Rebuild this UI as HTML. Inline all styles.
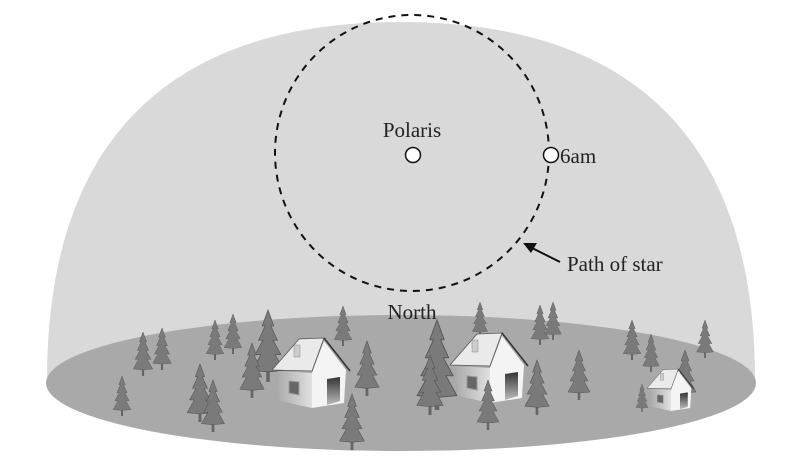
<!DOCTYPE html>
<html><head><style>
html,body{margin:0;padding:0;background:#fff;}
svg{display:block;}
text{font-family:"Liberation Serif",serif;fill:#222;}
</style></head><body>
<svg width="800" height="470" viewBox="0 0 800 470" xmlns="http://www.w3.org/2000/svg">
<defs>
<linearGradient id="dg" x1="0" y1="0" x2="0" y2="1"><stop offset="0" stop-color="#333"/><stop offset="1" stop-color="#bbb"/></linearGradient>
<linearGradient id="sw" x1="0" y1="0" x2="1" y2="0"><stop offset="0" stop-color="#aaa"/><stop offset="1" stop-color="#e0e0e0"/></linearGradient>
<g id="t">
<rect x="-0.025" y="-0.15" width="0.05" height="0.15" fill="#666"/>
<polygon fill="#7a7a7a" stroke="#555" stroke-width="0.01" points="0,-1 0.08,-0.78 0.04,-0.78 0.13,-0.58 0.07,-0.58 0.18,-0.38 0.1,-0.38 0.22,-0.16 0,-0.14 -0.22,-0.16 -0.1,-0.38 -0.18,-0.38 -0.07,-0.58 -0.13,-0.58 -0.04,-0.78 -0.08,-0.78"/>
</g>
<g id="h">
<polygon points="5,38 40,40 40,75 8,68" fill="url(#sw)"/>
<polygon points="40,40 52,8 74,37 72,70 40,75" fill="#f4f4f4"/>
<polygon points="0,37 27,6 52,5 40,38" fill="#eaeaea" stroke="#555" stroke-width="0.8"/>
<line x1="52" y1="5" x2="78" y2="38" stroke="#333" stroke-width="1.6"/>
<rect x="22" y="12" width="6" height="12" fill="#ccc" stroke="#888" stroke-width="0.5"/>
<polygon points="55,46 68,44 68,68 55,72" fill="url(#dg)"/>
<polygon points="17,48 27,49 27,62 17,60" fill="#666" stroke="#999" stroke-width="1"/>
</g>
</defs>
<path d="M47,380 C47,120 190,22 401,22 C612,22 755,120 755,380 Z" fill="#d9d9d9"/>
<ellipse cx="401" cy="383" rx="355" ry="68" fill="#a9a9a9"/>
<ellipse cx="412" cy="153" rx="137" ry="138" fill="none" stroke="#111" stroke-width="2" stroke-dasharray="7,6"/>
<circle cx="413" cy="155" r="7.5" fill="#fff" stroke="#111" stroke-width="1.5"/>
<circle cx="551" cy="155" r="7.5" fill="#fff" stroke="#111" stroke-width="1.5"/>
<text x="412" y="137" font-size="21" text-anchor="middle">Polaris</text>
<text x="560" y="163" font-size="21">6am</text>
<text x="567" y="271" font-size="21">Path of star</text>
<text x="412" y="319" font-size="21" text-anchor="middle">North</text>
<line x1="560" y1="262" x2="532" y2="248" stroke="#111" stroke-width="2"/>
<polygon points="523,243 537,243 531,253" fill="#111"/>
<g>
<use href="#t" transform="translate(122,416) scale(40)"/>
<use href="#t" transform="translate(143,376) scale(44)"/>
<use href="#t" transform="translate(162,370) scale(42)"/>
<use href="#t" transform="translate(215,360) scale(40)"/>
<use href="#t" transform="translate(233,354) scale(40)"/>
<use href="#t" transform="translate(268,382) scale(72)"/>
<use href="#t" transform="translate(252,398) scale(55)"/>
<use href="#t" transform="translate(200,422) scale(58)"/>
<use href="#t" transform="translate(213,432) scale(52)"/>
<use href="#t" transform="translate(343,346) scale(40)"/>
<use href="#t" transform="translate(367,396) scale(55)"/>
<use href="#t" transform="translate(352,450) scale(56)"/>
<use href="#t" transform="translate(480,337) scale(35)"/>
<use href="#t" transform="translate(540,345) scale(40)"/>
<use href="#t" transform="translate(553,340) scale(38)"/>
<use href="#t" transform="translate(579,400) scale(50)"/>
<use href="#t" transform="translate(632,360) scale(40)"/>
<use href="#t" transform="translate(651,372) scale(38)"/>
<use href="#t" transform="translate(705,358) scale(38)"/>
<use href="#t" transform="translate(685,400) scale(50)"/>
<use href="#t" transform="translate(642,412) scale(28)"/>
</g>
<use href="#h" transform="translate(272,333)"/>
<use href="#t" transform="translate(437,410) scale(90)"/>
<use href="#t" transform="translate(430,415) scale(60)"/>
<use href="#h" transform="translate(450,328)"/>
<use href="#t" transform="translate(488,430) scale(50)"/>
<use href="#t" transform="translate(537,415) scale(55)"/>
<use href="#h" transform="translate(647,366) scale(0.6)"/>
</svg>
</body></html>
